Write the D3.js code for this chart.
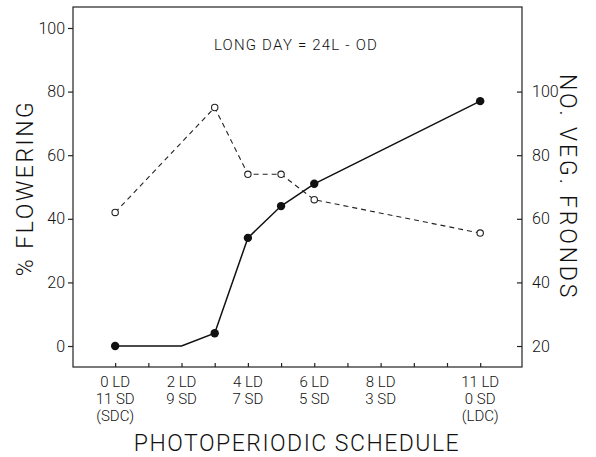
<!DOCTYPE html>
<html>
<head>
<meta charset="utf-8">
<script src="https://cdn.jsdelivr.net/npm/d3@7"></script>
<style>
  body { margin: 0; background: #fff; }
  text { font-family: "Roboto", "DejaVu Sans", sans-serif; font-weight: 300; fill: #111; }
</style>
</head>
<body>
<div id="chart"></div>
<script>
// datos
const ldDays = [0, 2, 3, 4, 5, 6, 11]
const flowering = [0, 0, 4, 34, 44, 51, 77]       // % floracion (eje izq)
const floweringMarked = [true, false, true, true, true, true, true]
const vegDays = [0, 3, 4, 5, 6, 11]
const vegFronds = [62, 95, 74, 74, 66, 55.5]      // no. frondas veg. (eje der)

const xTicks = [0, 1, 2, 3, 4, 5, 6, 7, 8, 9, 10, 11]
const xLabelDays = [0, 2, 4, 6, 8, 11]
const xLabels = [
  ['0 LD', '11 SD', '(SDC)'],
  ['2 LD', '9 SD'],
  ['4 LD', '7 SD'],
  ['6 LD', '5 SD'],
  ['8 LD', '3 SD'],
  ['11 LD', '0 SD', '(LDC)']
]
const leftTicks = [0, 20, 40, 60, 80, 100]
const rightTicks = [20, 40, 60, 80, 100]

// Configuración del gráfico
var width = 596, height = 457
var margin = { top: 7, right: 74, bottom: 90, left: 73 }

var svg = d3.select('#chart')
  .append('svg')
  .attr('width', width)
  .attr('height', height)

var x = d3.scaleLinear()
  .domain([-1.27, 12.26])
  .range([margin.left, width - margin.right])

var yL = d3.scaleLinear()
  .domain([-6.6, 106.6])
  .range([height - margin.bottom, margin.top])

var yR = d3.scaleLinear()
  .domain([13.4, 126.6])
  .range([height - margin.bottom, margin.top])

// marco
svg.append('rect')
  .attr('x', margin.left).attr('y', margin.top)
  .attr('width', width - margin.left - margin.right)
  .attr('height', height - margin.top - margin.bottom)
  .attr('fill', 'none').attr('stroke', '#222').attr('stroke-width', 1.2)

// ejes
var axL = d3.axisLeft(yL).tickValues(leftTicks).tickSize(5).tickPadding(3)
var gL = svg.append('g').attr('transform', 'translate(' + margin.left + ',0)').call(axL)

var axR = d3.axisRight(yR).tickValues(rightTicks).tickSize(-5).tickPadding(10)
var gR = svg.append('g').attr('transform', 'translate(' + (width - margin.right) + ',0)').call(axR)

var axB = d3.axisBottom(x).tickValues(xTicks).tickSize(-4).tickFormat('')
var gB = svg.append('g').attr('transform', 'translate(0,' + (height - margin.bottom) + ')').call(axB)

svg.selectAll('.domain').remove()
svg.selectAll('.tick line').attr('stroke', '#222').attr('stroke-width', 1.2)
gL.selectAll('text').attr('font-size', 16).attr('fill', '#111')
gR.selectAll('text').attr('font-size', 16).attr('fill', '#111')

// etiquetas eje x
var lab = svg.append('g')
xLabelDays.forEach(function(d, i) {
  var t = lab.append('text')
    .attr('x', x(d))
    .attr('y', height - margin.bottom + 20)
    .attr('text-anchor', 'middle')
    .attr('font-size', 15)
  xLabels[i].forEach(function(s, j) {
    t.append('tspan').attr('x', x(d)).attr('dy', j === 0 ? 0 : 17).text(s)
  })
})

// titulos
svg.append('text')
  .attr('x', 297).attr('y', 451)
  .attr('text-anchor', 'middle')
  .attr('font-size', 23)
  .attr('letter-spacing', 1.5)
  .text('PHOTOPERIODIC  SCHEDULE')

svg.append('text')
  .attr('transform', 'translate(33,188) rotate(-90)')
  .attr('text-anchor', 'middle')
  .attr('font-size', 23)
  .attr('letter-spacing', 2.5)
  .text('%  FLOWERING')

svg.append('text')
  .attr('transform', 'translate(560,187) rotate(90)')
  .attr('text-anchor', 'middle')
  .attr('font-size', 23)
  .attr('letter-spacing', 2.8)
  .text('NO.  VEG.  FRONDS')

svg.append('text')
  .attr('x', 296).attr('y', 50)
  .attr('text-anchor', 'middle')
  .attr('font-size', 15)
  .attr('letter-spacing', 1.2)
  .text('LONG DAY = 24L - OD')

// linea discontinua (frondas)
var vegData = vegDays.map(function(d, i) { return [d, vegFronds[i]] })
svg.append('path')
  .datum(vegData)
  .attr('fill', 'none')
  .attr('stroke', '#222')
  .attr('stroke-width', 1.1)
  .attr('stroke-dasharray', '5,4')
  .attr('d', d3.line().x(d => x(d[0])).y(d => yR(d[1])))

svg.selectAll('circle.veg')
  .data(vegData)
  .enter().append('circle')
  .attr('class', 'veg')
  .attr('cx', d => x(d[0]))
  .attr('cy', d => yR(d[1]))
  .attr('r', 3.2)
  .attr('fill', '#fff')
  .attr('stroke', '#222')
  .attr('stroke-width', 1.1)

// linea solida (floracion)
var flData = ldDays.map(function(d, i) { return [d, flowering[i], floweringMarked[i]] })
svg.append('path')
  .datum(flData)
  .attr('fill', 'none')
  .attr('stroke', '#111')
  .attr('stroke-width', 1.5)
  .attr('d', d3.line().x(d => x(d[0])).y(d => yL(d[1])))

svg.selectAll('circle.fl')
  .data(flData.filter(d => d[2]))
  .enter().append('circle')
  .attr('class', 'fl')
  .attr('cx', d => x(d[0]))
  .attr('cy', d => yL(d[1]))
  .attr('r', 4.2)
  .attr('fill', '#111')
</script>
</body>
</html>
